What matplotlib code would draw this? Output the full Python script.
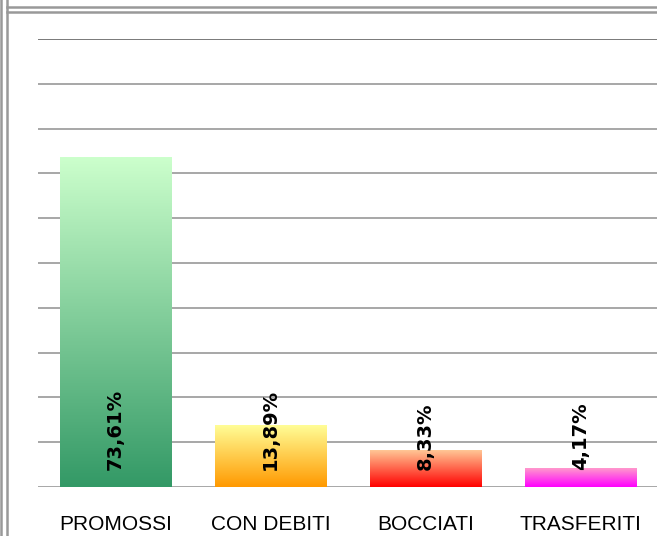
import matplotlib
matplotlib.use("Agg")
import matplotlib.pyplot as plt
import numpy as np
from matplotlib.colors import LinearSegmentedColormap
from matplotlib.lines import Line2D

categories = ["PROMOSSI", "CON DEBITI", "BOCCIATI", "TRASFERITI"]
values = [73.61, 13.89, 8.33, 4.17]
value_labels = ["73,61%", "13,89%", "8,33%", "4,17%"]
top_colors = ["#ccffcc", "#ffff99", "#ffcc99", "#ff99cc"]
bottom_colors = ["#339966", "#ff9900", "#ff0000", "#ff00ff"]

W, H = 657, 536
fig = plt.figure(figsize=(W / 100, H / 100), dpi=100)
fig.patch.set_facecolor("white")

ax = fig.add_axes([38 / W, (H - 487) / H, 620 / W, 448 / H])
ax.set_xlim(-0.5, 3.5)
ax.set_ylim(0, 100)
for s in ax.spines.values():
    s.set_visible(False)
ax.set_xticks([])
ax.set_yticks([])
ax.patch.set_alpha(0)

# gridlines
for g in range(0, 101, 10):
    c = "#6e6e6e" if g == 100 else "#a0a0a0"
    ax.axhline(g, color=c, lw=1.3, zorder=0)

x = np.arange(len(categories))
bars = ax.bar(x, values, width=0.72, color="none", edgecolor="none", zorder=2)
grad = np.linspace(0, 1, 256).reshape(-1, 1)
for b, tc, bc in zip(bars, top_colors, bottom_colors):
    cmap = LinearSegmentedColormap.from_list("g", [bc, tc])
    x0, y0 = b.get_x(), b.get_y()
    w, h = b.get_width(), b.get_height()
    im = ax.imshow(grad, cmap=cmap, aspect="auto", origin="lower",
                   extent=[x0, x0 + w, y0, y0 + h], zorder=2, interpolation="bilinear")
    im.set_clip_path(b)

ax.set_xlim(-0.5, 3.5)
ax.set_ylim(0, 100)

for xi, lab in zip(x, value_labels):
    ax.annotate(lab, (xi, 0), xytext=(0, 12.5), textcoords="offset points",
                rotation=90, ha="center", va="bottom", fontsize=14,
                fontweight="bold", family="DejaVu Sans", color="black", zorder=5)

for xi, cat in zip(x, categories):
    ax.annotate(cat, (xi, 0), xytext=(0, -31), textcoords="offset points",
                ha="center", va="baseline", fontsize=15,
                family="Liberation Sans", color="black", annotation_clip=False)

# frame lines
fc = "#999999"
def fl(xs, ys):
    fig.add_artist(Line2D([v / W for v in xs], [1 - v / H for v in ys],
                          color=fc, lw=1.8, transform=fig.transFigure))
fl([1, 1], [0, H])
fl([7, 7], [0, H])
fl([7, W], [7, 7])
fl([7, W], [12, 12])

fig.savefig("out.png", dpi=100, facecolor="white")
